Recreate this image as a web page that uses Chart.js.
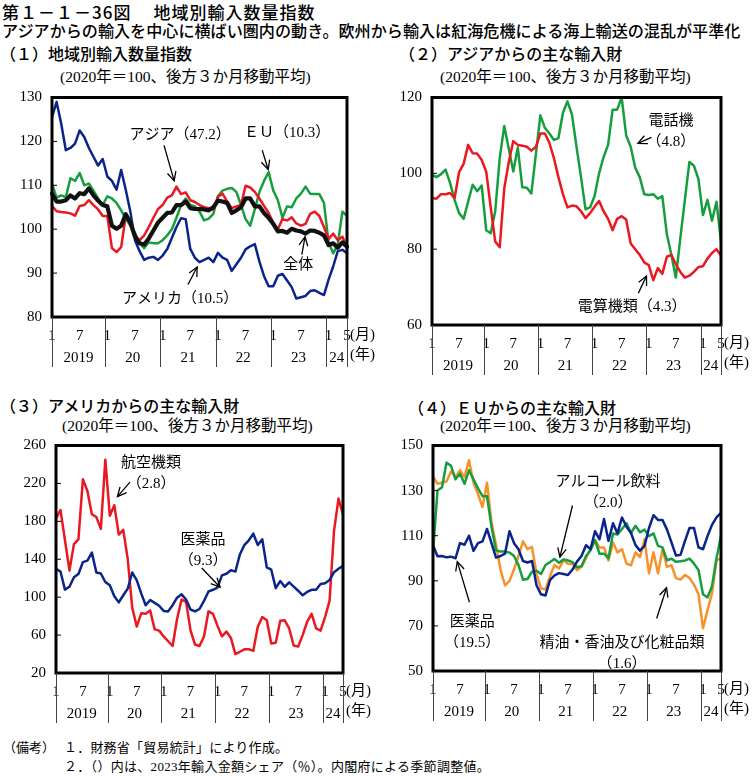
<!DOCTYPE html>
<html><head><meta charset="utf-8">
<script src="https://cdn.jsdelivr.net/npm/chart.js@4.4.1/dist/chart.umd.min.js"></script>
<style>
body{margin:0;background:#fff;width:753px;height:776px;position:relative;overflow:hidden;font-family:"Noto Sans CJK JP",sans-serif;color:#000}
.t{position:absolute;white-space:nowrap;line-height:1}
.g{font-family:"Noto Sans CJK JP",sans-serif}
.m{font-family:"Liberation Serif","Noto Sans CJK JP",serif}
canvas{position:absolute}
</style></head><body>
<div class="t g" style="left:2px;top:3px;font-size:17px;font-weight:500;letter-spacing:1px">第１－１－36図<span style="margin-left:22px">地域別輸入数量指数</span></div>
<div class="t g" style="left:2px;top:22px;font-size:16.1px;font-weight:500">アジアからの輸入を中心に横ばい圏内の動き。欧州から輸入は紅海危機による海上輸送の混乱が平準化</div>
<div class="t g" style="left:0px;top:45px;font-size:16px;font-weight:500">（１）地域別輸入数量指数</div>
<div class="t g" style="left:399px;top:45px;font-size:16px;font-weight:500">（２）アジアからの主な輸入財</div>
<div class="t g" style="left:0px;top:397px;font-size:16px;font-weight:500">（３）アメリカからの主な輸入財</div>
<div class="t g" style="left:408px;top:399px;font-size:16px;font-weight:500">（４）ＥＵからの主な輸入財</div>
<div class="t m" style="left:60px;top:69px;font-size:15.5px">(2020年＝100、後方３か月移動平均)</div>
<div class="t m" style="left:440px;top:69px;font-size:15.5px">(2020年＝100、後方３か月移動平均)</div>
<div class="t m" style="left:62px;top:418px;font-size:15.5px">(2020年＝100、後方３か月移動平均)</div>
<div class="t m" style="left:440px;top:418px;font-size:15.5px">(2020年＝100、後方３か月移動平均)</div>
<div class="t m" style="left:3px;top:741px;font-size:13px">（備考）</div>
<div class="t m" style="left:64px;top:741px;font-size:13px;letter-spacing:0.2px">１．財務省「貿易統計」により作成。</div>
<div class="t m" style="left:64px;top:760px;font-size:13px;letter-spacing:0.3px">２．（）内は、2023年輸入金額シェア（％）。内閣府による季節調整値。</div>

<canvas id="c1" width="380" height="300" style="left:0px;top:80px"></canvas>
<canvas id="c2" width="375" height="300" style="left:378px;top:80px"></canvas>
<canvas id="c3" width="380" height="300" style="left:0px;top:428px"></canvas>
<canvas id="c4" width="375" height="300" style="left:378px;top:428px"></canvas>

<script>
// ---------------- data ----------------
const categories = [
'2019/1','2019/2','2019/3','2019/4','2019/5','2019/6','2019/7','2019/8','2019/9','2019/10','2019/11','2019/12',
'2020/1','2020/2','2020/3','2020/4','2020/5','2020/6','2020/7','2020/8','2020/9','2020/10','2020/11','2020/12',
'2021/1','2021/2','2021/3','2021/4','2021/5','2021/6','2021/7','2021/8','2021/9','2021/10','2021/11','2021/12',
'2022/1','2022/2','2022/3','2022/4','2022/5','2022/6','2022/7','2022/8','2022/9','2022/10','2022/11','2022/12',
'2023/1','2023/2','2023/3','2023/4','2023/5','2023/6','2023/7','2023/8','2023/9','2023/10','2023/11','2023/12',
'2024/1','2024/2','2024/3','2024/4','2024/5'];
const monthTickLabels = ['1','7'];
const yearLabels = ['2019','20','21','22','23','24'];
const unitMonth = '(月)';
const unitYear = '(年)';

// (1) regional import volume index
const total1 = [108.1,106.3,106.3,106.6,107.7,107,108.2,108,109.3,107.7,106.5,105.5,105.2,
100.8,100.1,100.8,103.4,101.5,98.3,96.8,96.5,97.9,99.7,101.5,102.6,103.7,
103.8,105.5,105.5,106.3,104.8,104.6,104.6,104.5,104.3,105,106.5,106.3,106,
103.7,104.3,105,107,107,105.2,105.2,103.7,102.6,101.2,99.5,99.6,99.2,
100.1,99.7,99.5,99,99.7,99.6,99.2,98.6,96.4,96.8,95.8,97,96];
const asia1 = [105.3,104.1,103.9,103.8,103.6,103.1,105.3,105.5,106.6,105.5,104.5,103,103,
95.7,94.8,95.9,103,101.5,98.5,97.5,98.6,100.5,102.6,104.6,105.5,107.2,
107.7,109.7,108,108.4,106.6,106.2,105.5,105,104.8,104.5,107.4,108.1,106.3,
104.8,105.2,105.5,109.9,109.5,108.5,107,105.3,103.7,101.5,100,102.3,102,
102.7,101.3,100.8,101.2,103.5,104,103,100.5,97.8,99,97.5,98.3,96];
const eu1 = [110.4,107.2,107.7,107.3,111.6,111,112.8,110,110.4,108.8,107,105.5,107.5,
107,106,104.3,102.4,100.8,99.2,96.8,95.7,97,96.8,96.8,97.5,98.6,
100,102.6,105.5,107,105.5,105.2,104,102,102.4,103.5,107.5,108.8,109.2,
109.4,108.5,105.5,102.3,100.8,104.5,108.5,111,113,108.8,106.6,102.6,105.2,
105,107,108.1,109.7,108.1,108,108,106,97,94.5,96.5,104,103];
const america1 = [125.5,129,124,118,118.5,119.5,122.5,121,118.5,116.5,114.5,116,112,
111,109,113.5,109,104,97.5,95,93,93.5,93.7,93,94,95.5,
98,100.5,102.5,102.3,95.5,93.5,92.5,93,93.5,92.5,94.6,93.5,93,
90.5,92,93.5,95.4,96.1,96.6,92.6,89.3,87,87,89.4,89.8,88.3,
86.8,84.2,84.5,84.8,85.9,86.1,85.5,85,88.5,91.5,95,95.3,94.5];

// (2) main imports from Asia
const phone2 = [99.6,99,99.8,101,97.5,93,89.5,88,92.5,97,95.3,96.8,85,
84.2,90,104,112.5,106.5,100.5,106.8,96.3,96.2,94.7,105,115.3,112,
110.5,108.8,109.3,116,119,115.5,107,99,90.5,91,94,100,104.3,
107.5,116.8,116.8,120,110,107,101.5,99,94.5,94.3,94.5,93.3,94,
84,78.5,72.5,83,93,103,102,98.5,89,93,87.5,92.5,82];
const computer2 = [93.5,93.3,94.5,94.5,94.8,93.5,100.3,102.5,107.5,105.3,105.2,103.5,100.5,
91,82,80.5,96,103,108.5,107.5,107.3,107,106,107,110.5,110.5,
108,104,99,94.5,91,91.5,91.3,90,88.2,89.5,91.2,92.7,90,
88,85,88,88.7,87.8,81.5,80,78.5,76.5,75.8,71.8,75,73.5,
78,78.5,76,74,72.5,73,74,75.3,75.5,77.5,79,80,78.3];

// (3) main imports from the US
const aircraft3 = [183,192,160,128,156,161,224.5,212,187.5,184.5,172,245,186,
197,166,171,140,89,69,83,82.5,86,66,64.7,58.6,53.5,
48.5,77,97.5,95,65,50,48.5,58.6,85,82.4,70,58.6,63.7,
57,40,42.4,45,45,43.4,68.8,79,75.6,51.2,51.9,75,75.6,
67,49,47.8,60,74,82.4,67,64.7,79,96,170,204,187];
const pharma3 = [130,127,108,111,121,124.5,137,138.5,147,126,125,116,112.5,
101,94.5,102,109,126,118,104,91.5,97,94,91,85.5,85,
91.5,99.5,103,97.5,87,85,87.5,96,106,107.8,110,123,124.7,
128.5,127,145,155,160,167,155,161,131.5,129,109.5,117,111,
115.6,111.2,106.8,102,105.5,107.8,107.8,114,114.6,118,126.4,130,133];

// (4) main imports from the EU
const pharma4 = [105.8,100.9,101,100.4,100.7,100,106.7,106,110,103.3,106.7,107.5,113,
106.7,100.3,101,102,112,106.7,104,98.8,98.1,98.8,88,84,83.5,
90.3,92.4,93.4,93,92.6,95,98.5,101,105.8,104,112,108.4,117.4,
107.7,115.5,111,118.1,114,111.2,105.8,103.4,105.5,113.4,119.1,117,117,
112.7,107,101.2,101.5,107.7,113.4,113.4,104.8,104,109.8,114.8,118.1,120.1];
const alcohol4 = [102.6,130,131.5,142.4,141,135,137.5,133,139,135,131,127.5,127.5,
114,103.5,103,103,102.5,101,97,90.5,90.8,94,94.5,93,97,
98.3,99.7,98,99.5,99,98.3,96,96.5,101,103.5,108,102,102,
100,111,110.5,113,115.5,111.2,114.4,111.5,112.7,109.8,111,105.5,104.8,
99.1,99.8,98.4,98.7,99,99.8,97.6,94.8,84,82.6,87.6,100,110];
const perfume4 = [136.3,133,133.5,134,138.5,136,139,136,143.5,133.5,128.5,122.7,133.5,
116,106,95,88,90,95,101,107.5,104,105,93,86.6,86.2,
92,97,95.5,99,97.6,97.5,94.7,96.2,100,104,108,104.8,104.8,
99,107,102.6,104,97.6,96.9,102.6,100.5,108.4,93.3,102.6,93.3,104,
96.2,96.9,91.2,90.5,92.6,91.2,88.3,84,69,77,84.5,99,100];

// ---------------- styles ----------------
const RED = 'rgb(234,24,32)', GREEN = 'rgb(22,158,62)', BLUE = 'rgb(10,36,140)', ORANGE = 'rgb(246,146,42)', BLACK = '#111';
const SERIF = '"Liberation Serif","Noto Sans CJK JP",serif';

const deco = {
  id: 'deco',
  afterDraw(chart, args, o) {
    const ctx = chart.ctx, a = chart.chartArea, xs = chart.scales.x, ys = chart.scales.y;
    ctx.save();
    ctx.strokeStyle = '#000'; ctx.lineWidth = 1;
    ys.ticks.forEach(t => {
      const y = ys.getPixelForValue(t.value);
      if (y > a.top + 3 && y < a.bottom - 3) { ctx.beginPath(); ctx.moveTo(a.left, y); ctx.lineTo(a.left + 5, y); ctx.stroke(); }
    });
    ctx.lineWidth = 3; ctx.strokeStyle = '#000';
    ctx.strokeRect(a.left, a.top, a.right - a.left, a.bottom - a.top);
    const bounds = [a.left];
    categories.forEach((c, i) => { if (i > 0 && c.endsWith('/1')) bounds.push((xs.getPixelForValue(i - 1) + xs.getPixelForValue(i)) / 2); });
    bounds.push(a.right);
    ctx.lineWidth = 1; ctx.strokeStyle = '#444';
    bounds.forEach(x => { ctx.beginPath(); ctx.moveTo(Math.round(x) + 0.5, a.bottom); ctx.lineTo(Math.round(x) + 0.5, a.bottom + 50); ctx.stroke(); });
    ctx.fillStyle = '#000'; ctx.font = '15px ' + SERIF; ctx.textAlign = 'center'; ctx.textBaseline = 'middle';
    yearLabels.forEach((lab, k) => { ctx.fillText(lab, (bounds[k] + bounds[k + 1]) / 2, a.bottom + 41); });
    ctx.textAlign = 'left';
    ctx.fillText(unitMonth, a.right + 3, a.bottom + 18);
    ctx.fillText(unitYear, a.right + 3, a.bottom + 38);
    (o.notes || []).forEach(n => {
      const cx = xs.getPixelForValue(n.x), cy = ys.getPixelForValue(n.y);
      ctx.textAlign = 'center';
      n.lines.forEach((ln, k) => ctx.fillText(ln, cx, cy + k * 21));
      const x1 = xs.getPixelForValue(n.arrow[0]), y1 = ys.getPixelForValue(n.arrow[1]);
      const x2 = xs.getPixelForValue(n.arrow[2]), y2 = ys.getPixelForValue(n.arrow[3]);
      ctx.lineWidth = 1.3; ctx.strokeStyle = '#000';
      ctx.beginPath(); ctx.moveTo(x1, y1); ctx.lineTo(x2, y2); ctx.stroke();
      const ang = Math.atan2(y2 - y1, x2 - x1), L = 10;
      ctx.beginPath();
      ctx.moveTo(x2 - L * Math.cos(ang - 0.45), y2 - L * Math.sin(ang - 0.45));
      ctx.lineTo(x2, y2);
      ctx.lineTo(x2 - L * Math.cos(ang + 0.45), y2 - L * Math.sin(ang + 0.45));
      ctx.stroke();
    });
    ctx.restore();
  }
};

function makePanel(id, datasets, ymin, ymax, step, lay, notes) {
  return new Chart(document.getElementById(id), {
    type: 'line',
    data: { labels: categories, datasets },
    options: {
      animation: false, responsive: false, devicePixelRatio: 1,
      layout: { padding: { top: lay.top, right: lay.right, bottom: 0, left: 0 } },
      elements: { point: { radius: 0 }, line: { tension: 0, borderJoinStyle: 'round', borderCapStyle: 'round' } },
      plugins: { legend: { display: false }, tooltip: { enabled: false }, deco: { notes } },
      scales: {
        x: {
          grid: { display: false, drawTicks: false }, border: { display: false },
          ticks: { autoSkip: false, maxRotation: 0, minRotation: 0, padding: 10, color: '#000',
            font: { family: SERIF, size: 15 },
            callback: (v, i) => { const m = categories[i].split('/')[1]; return (i === categories.length - 1 || monthTickLabels.includes(m)) ? m : ''; } },
          afterFit: s => { s.height = lay.xh; }
        },
        y: {
          min: ymin, max: ymax,
          grid: { display: false, drawTicks: false }, border: { display: false },
          ticks: { stepSize: step, padding: 10, color: '#000', font: { family: SERIF, size: 15, lineHeight: 1 } },
          afterFit: s => { s.width = lay.yw; }
        }
      }
    },
    plugins: [deco]
  });
}

const ds = (label, data, color, w) => ({ label, data, borderColor: color, borderWidth: w, fill: false });

makePanel('c1', [
  ds('全体', total1, BLACK, 4.2),
  ds('アジア', asia1, RED, 2.5),
  ds('EU', eu1, GREEN, 2.5),
  ds('アメリカ', america1, BLUE, 2.5)
], 80, 130, 10, { top: 8, right: 33, yw: 52, xh: 63 }, [
  { lines: ['アジア（47.2）'], x: 27.8, y: 121.5, arrow: [24.3, 119.1, 26.5, 111] },
  { lines: ['ＥＵ（10.3）'], x: 51, y: 121.9, arrow: [45.6, 118, 46.9, 113.6] },
  { lines: ['全体'], x: 53.4, y: 91.8, arrow: [54.2, 94.2, 54.9, 98.3] },
  { lines: ['アメリカ（10.5）'], x: 27.8, y: 84.1, arrow: [29.5, 87.4, 31.5, 91.4] }
]);

makePanel('c2', [
  ds('電算機類', computer2, RED, 2.5),
  ds('電話機', phone2, GREEN, 2.5)
], 60, 120, 20, { top: 8, right: 32, yw: 54, xh: 55 }, [
  { lines: ['電話機', '（4.8）'], x: 52.9, y: 113.7, arrow: [48.6, 109.5, 45.6, 107.9] },
  { lines: ['電算機類（4.3）'], x: 44.3, y: 64.6, arrow: [45.7, 68.4, 47.5, 72.9] }
]);

makePanel('c3', [
  ds('医薬品', pharma3, BLUE, 2.5),
  ds('航空機類', aircraft3, RED, 2.5)
], 20, 260, 40, { top: 9, right: 37, yw: 56, xh: 55 }, [
  { lines: ['航空機類', '（2.8）'], x: 21.2, y: 241.7, arrow: [16.5, 221.4, 13.7, 206.1] },
  { lines: ['医薬品', '（9.3）'], x: 32.8, y: 160.3, arrow: [32.5, 130.8, 36.6, 110.5] }
]);

makePanel('c4', [
  ds('医薬品', pharma4, BLUE, 2.5),
  ds('アルコール飲料', alcohol4, GREEN, 2.5),
  ds('精油・香油及び化粧品類', perfume4, ORANGE, 2.5)
], 50, 150, 20, { top: 10, right: 32, yw: 55, xh: 57 }, [
  { lines: ['アルコール飲料', '（2.0）'], x: 38.9, y: 133.7, arrow: [31, 123.4, 28.2, 100.5] },
  { lines: ['医薬品', '（19.5）'], x: 8.7, y: 71.9, arrow: [8.1, 80.5, 5.4, 98.5] },
  { lines: ['精油・香油及び化粧品類', '（1.6）'], x: 42, y: 62.4, arrow: [49.7, 73.3, 51.9, 86.9] }
]);
</script>
</body></html>
